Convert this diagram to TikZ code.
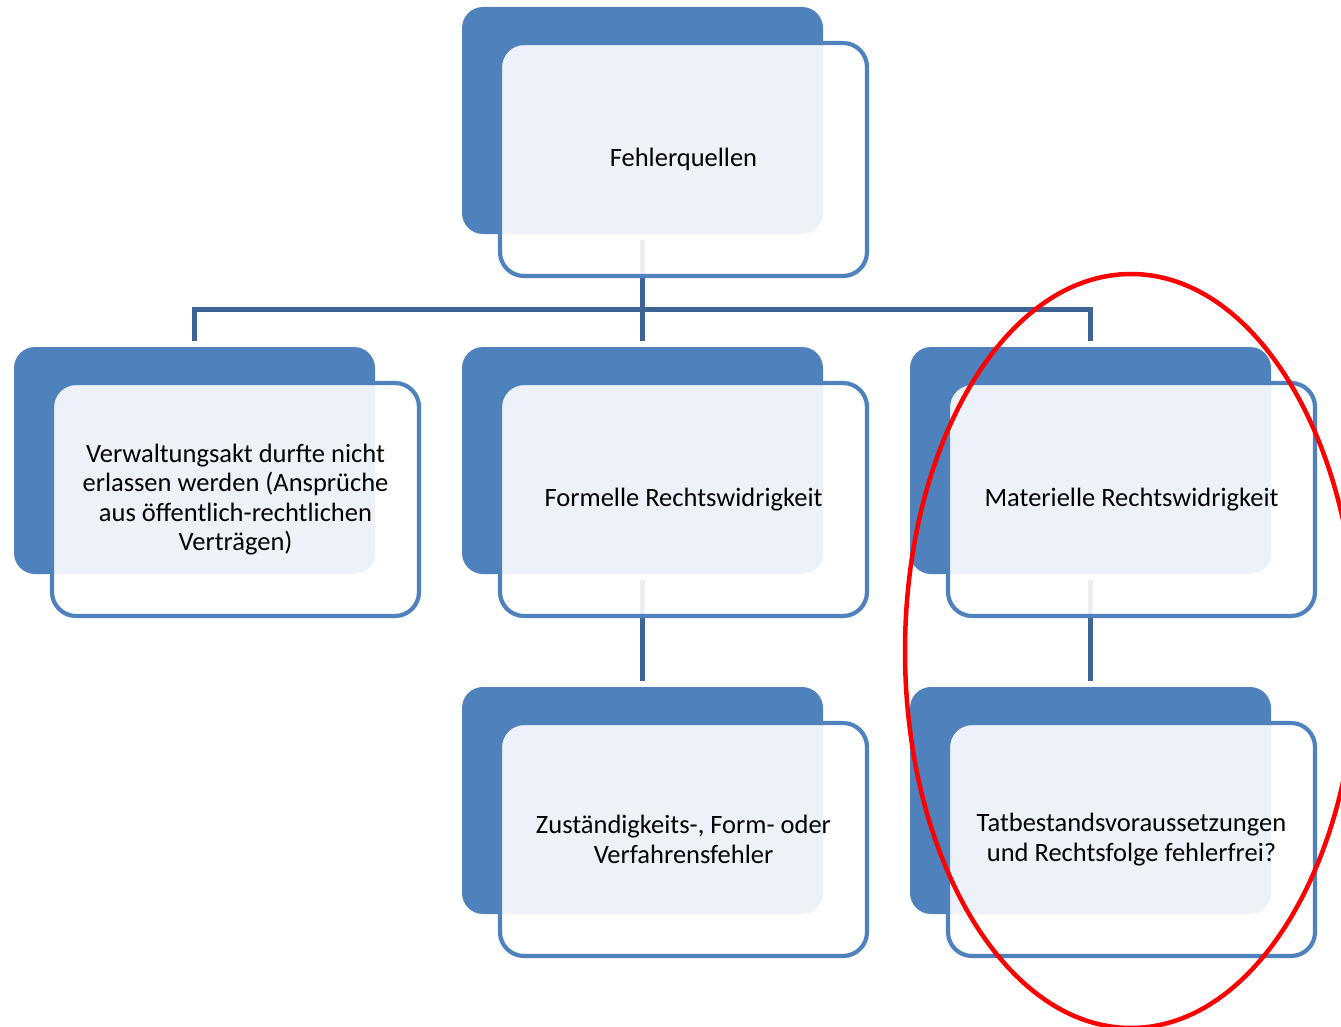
\documentclass[tikz,border=0pt]{standalone}
\usepackage{fontspec}
\setmainfont{Carlito}
\definecolor{accent}{RGB}{79,129,189}
\definecolor{conn}{RGB}{62,100,150}
\definecolor{ringred}{RGB}{255,0,0}
\begin{document}
\begin{tikzpicture}[x=1pt,y=-1pt,
  backbox/.style={rectangle,rounded corners=21pt,fill=accent,draw=none,
    minimum width=361pt,minimum height=227pt,inner sep=0pt,outer sep=0pt},
  frontbox/.style={rectangle,rounded corners=24pt,fill=white,fill opacity=0.9,
    draw=accent,draw opacity=1,line width=4.2pt,text opacity=1,
    minimum width=367pt,minimum height=233pt,inner sep=0pt,outer sep=0pt,
    align=center,font=\fontsize{26.5}{29.5}\selectfont},
  link/.style={draw=conn,line width=5pt}]
\useasboundingbox (0,0) rectangle (1341,1027);
\clip (0,0) rectangle (1341,1027);
% back boxes
\node[backbox] (b0) at (642.5,120.5) {};
\node[backbox] (b1) at (194.5,460.5) {};
\node[backbox] (b2) at (642.5,460.5) {};
\node[backbox] (b3) at (1090.5,460.5) {};
\node[backbox] (b4) at (642.5,800.5) {};
\node[backbox] (b5) at (1090.5,800.5) {};
% connectors
\coordinate (bar) at (642.5,309.5);
\draw[link] ([yshift=-6pt]b0.south) -- (bar);
\draw[link] ([yshift=6pt]b1.north) |- (bar) -| ([yshift=6pt]b3.north);
\draw[link] (bar) -- ([yshift=6pt]b2.north);
\draw[link] ([yshift=-6pt]b2.south) -- ([yshift=6pt]b4.north);
\draw[link] ([yshift=-6pt]b3.south) -- ([yshift=6pt]b5.north);
% front boxes
\node[frontbox] (f0) at (683.5,159.5) {Fehlerquellen};
\node[frontbox] (f1) at (235.5,499.5) {Verwaltungsakt durfte nicht\\erlassen werden (Ansprüche\\aus öffentlich-rechtlichen\\Verträgen)};
\node[frontbox] (f2) at (683.5,499.5) {Formelle Rechtswidrigkeit};
\node[frontbox] (f3) at (1131.5,499.5) {Materielle Rechtswidrigkeit};
\node[frontbox] (f4) at (683.5,839.5) {Zuständigkeits-, Form- oder\\Verfahrensfehler};
\node[frontbox] (f5) at (1131.5,839.5) {Tatbestandsvoraussetzungen\\und Rechtsfolge fehlerfrei?};
% red ellipse
\draw[ringred,line width=4.5pt] (1131,651) ellipse [x radius=226pt,y radius=377pt];
\end{tikzpicture}
\end{document}
